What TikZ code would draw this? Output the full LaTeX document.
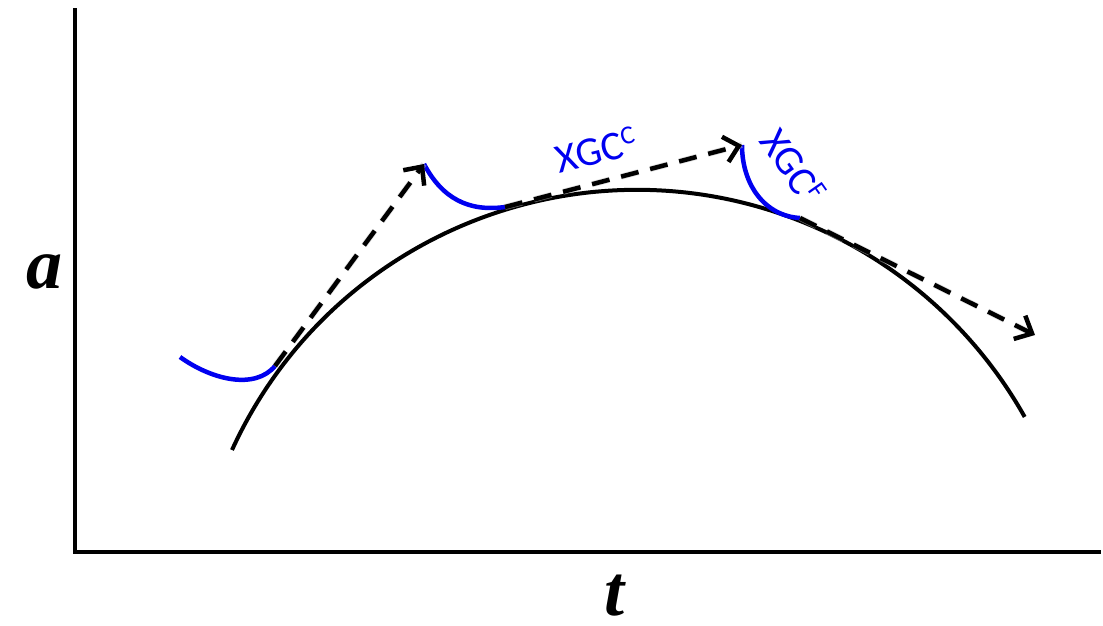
\documentclass[tikz,border=0pt]{standalone}
\usepackage{fontspec}
\setmainfont{Liberation Serif}
\newfontfamily\lblfont{Carlito}
\usetikzlibrary{arrows.meta}
\definecolor{xblue}{RGB}{0,0,240}
\tikzset{
  axis/.style={line width=4pt},
  maincurve/.style={line width=4pt},
  bluecurve/.style={xblue, line width=4.5pt},
  darrow/.style={line width=4.5pt, dash pattern=on 18pt off 12pt, -{Straight Barb[length=14pt,width=26pt,line width=4.5pt]}},
  dshadow/.style={line width=6pt, black!25, opacity=0.5, dash pattern=on 18pt off 12pt},
  bluelabel/.style={xblue, font=\lblfont\fontsize{41}{46}\selectfont, inner sep=0pt},
  axlabel/.style={font=\fontsize{72}{76}\selectfont\bfseries\itshape, inner sep=0pt}
}
\begin{document}
\begin{tikzpicture}[x=1pt,y=-1pt]
\useasboundingbox (0,0) rectangle (1103,625);
% axes
\coordinate (ytop) at (75,8);
\coordinate (orig) at (75,552);
\coordinate (xend) at (1101,552);
\draw[axis] (ytop) -- (orig) -- (xend);
\node[axlabel] (alab) at (45,272) {a};
\node[axlabel] (tlab) at (614,596) {t};
% main arc (circle centre (637,635), r 445)
\coordinate (cstart) at (232,450);
\draw[maincurve] (cstart) arc[start angle=204.55, end angle=330.67, radius=445];
% tangency points
\coordinate (p1) at (275,366);
\coordinate (p2) at (505,207);
\coordinate (p3) at (800,218);
% tips
\coordinate (q1) at (424,164);
\coordinate (q2) at (742,145);
\coordinate (q3) at (1035,335);
% blue curves
\coordinate (b1) at (180,357);
\draw[bluecurve] (b1) .. controls (212,380) and (255,390) .. (p1);
\draw[bluecurve] (q1) .. controls (442,198) and (468,212) .. (p2);
\draw[bluecurve] (q2) .. controls (742,185) and (765,216) .. (p3);
% dashed arrows with soft shadow
\begin{scope}[shift={(4,5)}]
\draw[dshadow] (p1) -- (q1);
\draw[dshadow] (p2) -- (q2);
\draw[dshadow] (p3) -- (q3);
\end{scope}
\draw[darrow] (p1) -- (q1);
\draw[darrow] (p2) -- (q2);
\draw[darrow] (p3) -- (q3);
% labels
\node[bluelabel, rotate=14] (lc) at (596,150) {XGC\raisebox{12pt}{\fontsize{26}{28}\selectfont C}};
\node[bluelabel, rotate=-55] (lf) at (793,166) {XGC\raisebox{12pt}{\fontsize{26}{28}\selectfont F}};
\end{tikzpicture}
\end{document}
